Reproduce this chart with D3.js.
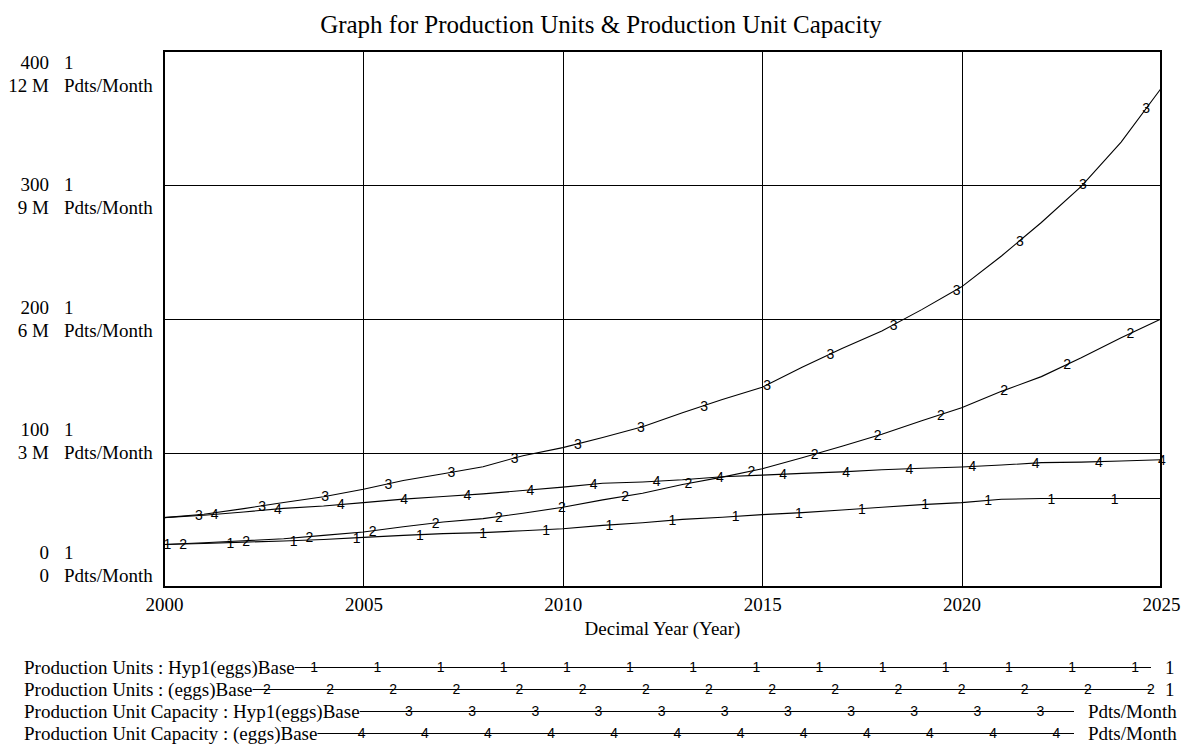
<!DOCTYPE html>
<html>
<head>
<meta charset="utf-8">
<script src="https://cdn.jsdelivr.net/npm/d3@7"></script>
<style>
  body { margin: 0; background: #fff; }
  svg { display: block; }
</style>
</head>
<body>
<svg id="chart" width="1181" height="747"></svg>
<script>
// Simulation years (yearly samples)
const years = [2000, 2001, 2002, 2003, 2004, 2005, 2006, 2007, 2008, 2009, 2010, 2011, 2012,
               2013, 2014, 2015, 2016, 2017, 2018, 2019, 2020, 2021, 2022, 2023, 2024, 2025];

// Production Units (units: 1)
const unitsHyp1 = [31.7, 32.5, 33.5, 34.3, 35.5, 37, 38.5, 39.8, 40.6, 42, 43.5, 46, 48,
                   50.5, 52, 54, 55.5, 57.5, 59.5, 61.5, 63, 65.5, 66, 66, 66, 66];
const unitsBase = [31.7, 33, 34.5, 36, 38.5, 41, 45, 48.5, 51, 55, 59.5, 65, 70,
                   76.5, 82, 88.3, 96.5, 105, 114, 124, 133.7, 146, 157, 171, 186, 200];

// Production Unit Capacity (Pdts/Month)
const capacityHyp1 = [1554000, 1629000, 1755000, 1890000, 2022000, 2190000, 2385000, 2535000,
                      2694000, 2940000, 3120000, 3345000, 3588000, 3900000, 4200000, 4470000,
                      4920000, 5340000, 5730000, 6210000, 6720000, 7410000, 8160000, 8970000,
                      9960000, 11160000];
const capacityBase = [1554000, 1605000, 1680000, 1761000, 1815000, 1890000, 1968000, 2025000,
                      2085000, 2160000, 2235000, 2322000, 2352000, 2400000, 2469000, 2505000,
                      2544000, 2577000, 2625000, 2658000, 2688000, 2730000, 2784000, 2796000,
                      2820000, 2850000];

// Axis tick values and labels
const unitTicks = [0, 100, 200, 300, 400];
const capacityTickValues = [0, 3e6, 6e6, 9e6, 12e6];
const capacityTickLabels = ["0", "3 M", "6 M", "9 M", "12 M"];
const yearTicks = [2000, 2005, 2010, 2015, 2020, 2025];

// Legend
const legendLabels = [
  "Production Units : Hyp1(eggs)Base",
  "Production Units : (eggs)Base",
  "Production Unit Capacity : Hyp1(eggs)Base",
  "Production Unit Capacity : (eggs)Base"
];
const legendUnits = ["1", "1", "Pdts/Month", "Pdts/Month"];
const seriesTags = ["1", "2", "3", "4"];

const titleText = "Graph for Production Units & Production Unit Capacity";
const xAxisTitle = "Decimal Year (Year)";

// ---- layout ----
const serif = "'Liberation Serif', 'Times New Roman', Times, serif";
const sans = "'Liberation Sans', Arial, Helvetica, sans-serif";
const plot = { left: 164, right: 1161, top: 51, bottom: 587 };

const svg = d3.select("#chart");

const x = d3.scaleLinear().domain([2000, 2025]).range([plot.left, plot.right]);
const yUnits = d3.scaleLinear().domain([0, 400]).range([plot.bottom, plot.top]);
const yCap = d3.scaleLinear().domain([0, 12e6]).range([plot.bottom, plot.top]);

// title
svg.append("text")
  .attr("x", 601).attr("y", 24)
  .attr("text-anchor", "middle").attr("dominant-baseline", "central")
  .style("font-family", serif).style("font-size", "25px")
  .text(titleText);

// grid lines
const grid = svg.append("g").attr("stroke", "#000").attr("stroke-width", 1);
grid.selectAll("line.h")
  .data(unitTicks.filter(d => d > 0 && d < 400))
  .join("line")
  .attr("x1", plot.left).attr("x2", plot.right)
  .attr("y1", d => Math.round(yUnits(d)) + 0.5).attr("y2", d => Math.round(yUnits(d)) + 0.5);
grid.selectAll("line.v")
  .data(yearTicks.filter(d => d > 2000 && d < 2025))
  .join("line")
  .attr("y1", plot.top).attr("y2", plot.bottom)
  .attr("x1", d => Math.round(x(d)) + 0.5).attr("x2", d => Math.round(x(d)) + 0.5);

// series
const series = [
  { values: unitsHyp1, y: yUnits },
  { values: unitsBase, y: yUnits },
  { values: capacityHyp1, y: yCap },
  { values: capacityBase, y: yCap }
];

const lineGen = s => d3.line()
  .x((d, i) => x(years[i]))
  .y(d => s.y(d))(s.values);

svg.append("g")
  .selectAll("path")
  .data(series)
  .join("path")
  .attr("d", lineGen)
  .attr("fill", "none")
  .attr("stroke", "#000")
  .attr("stroke-width", 1.1);

// value at a given year, linear between samples
function valueAt(values, yr) {
  const i = Math.min(years.length - 2, Math.max(0, d3.bisectRight(years, yr) - 1));
  const t = (yr - years[i]) / (years[i + 1] - years[i]);
  return values[i] + (values[i + 1] - values[i]) * t;
}

// numbered tags along each line
const tagStep = 63.15, tagShift = 15.8;
const tagLayer = svg.append("g")
  .style("font-family", sans).style("font-size", "14px")
  .attr("text-anchor", "middle").attr("dominant-baseline", "central");
series.forEach((s, k) => {
  const xs = [];
  for (let px = plot.left + 3.3 + k * tagShift; px <= plot.right + 1; px += tagStep) xs.push(px);
  tagLayer.selectAll(null)
    .data(xs)
    .join("text")
    .attr("x", d => d)
    .attr("y", d => s.y(valueAt(s.values, x.invert(Math.min(d, plot.right)))))
    .text(seriesTags[k]);
});

// frame
svg.append("rect")
  .attr("x", plot.left).attr("y", plot.top)
  .attr("width", plot.right - plot.left).attr("height", plot.bottom - plot.top)
  .attr("fill", "none").attr("stroke", "#000").attr("stroke-width", 2);

// left axis labels: two stacked rows per tick, spread evenly down the axis
const labelMid = d3.scaleLinear().domain([0, 400]).range([plot.bottom - 23, plot.top + 22.5]);
const yLabels = svg.append("g").style("font-family", serif).style("font-size", "19px")
  .attr("dominant-baseline", "central");
unitTicks.forEach((t, i) => {
  const m = labelMid(t);
  yLabels.append("text").attr("x", 49).attr("y", m - 11.5).attr("text-anchor", "end").text(String(t));
  yLabels.append("text").attr("x", 64).attr("y", m - 11.5).text("1");
  yLabels.append("text").attr("x", 49).attr("y", m + 11.5).attr("text-anchor", "end").text(capacityTickLabels[i]);
  yLabels.append("text").attr("x", 64).attr("y", m + 11.5).text("Pdts/Month");
});

// bottom axis
const xAxis = d3.axisBottom(x).tickValues(yearTicks).tickFormat(d3.format("d")).tickSize(0).tickPadding(0);
const xg = svg.append("g").attr("transform", `translate(0, ${plot.bottom})`).call(xAxis);
xg.select(".domain").remove();
xg.selectAll("text")
  .attr("y", 17).attr("dy", null).attr("dominant-baseline", "central")
  .style("font-family", serif).style("font-size", "19px").attr("fill", "#000");

svg.append("text")
  .attr("x", (plot.left + plot.right) / 2).attr("y", 628)
  .attr("text-anchor", "middle").attr("dominant-baseline", "central")
  .style("font-family", serif).style("font-size", "19px")
  .text(xAxisTitle);

// legend
const legendTop = 667, legendRow = 22, legendX = 24;
const legendLineEnd = [1151, 1151, 1074, 1074];
legendLabels.forEach((lab, k) => {
  const yy = legendTop + k * legendRow;
  const g = svg.append("g");
  const t = g.append("text")
    .attr("x", legendX).attr("y", yy).attr("dominant-baseline", "central")
    .style("font-family", serif).style("font-size", "19px")
    .text(lab);
  const textEnd = legendX + t.node().getComputedTextLength();
  const end = legendLineEnd[k];
  g.append("line")
    .attr("x1", textEnd).attr("x2", end)
    .attr("y1", yy + 0.5).attr("y2", yy + 0.5)
    .attr("stroke", "#000").attr("stroke-width", 1.1);
  const marks = [];
  for (let px = 1151 + (k - 1) * tagShift; px > textEnd + 6; px -= tagStep) {
    if (px <= end + 0.5) marks.push(px);
  }
  g.selectAll(null).data(marks).join("text")
    .attr("x", d => d).attr("y", yy)
    .attr("text-anchor", "middle").attr("dominant-baseline", "central")
    .style("font-family", sans).style("font-size", "14px")
    .text(seriesTags[k]);
  g.append("text")
    .attr("x", end + 14).attr("y", yy).attr("dominant-baseline", "central")
    .style("font-family", serif).style("font-size", "19px")
    .text(legendUnits[k]);
});
</script>
</body>
</html>
